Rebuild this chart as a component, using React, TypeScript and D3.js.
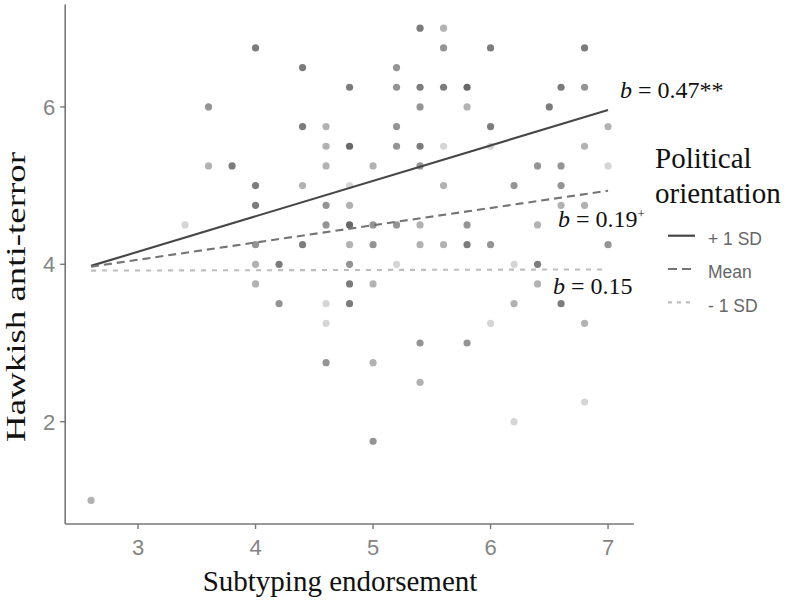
import React from "react";
import * as d3 from "d3";

// Scatter data: x (subtyping), y (hawkish), n (overlap count -> shade)
const pointX = [
  2.6, 3.4, 3.6, 3.6, 3.8,
  4.0, 4.0, 4.0, 4.0, 4.0, 4.0,
  4.2, 4.2,
  4.4, 4.4, 4.4, 4.4,
  4.6, 4.6, 4.6, 4.6, 4.6, 4.6, 4.6, 4.6,
  4.8, 4.8, 4.8, 4.8, 4.8, 4.8, 4.8, 4.8, 4.8,
  5.0, 5.0, 5.0, 5.0, 5.0, 5.0,
  5.2, 5.2, 5.2, 5.2, 5.2, 5.2,
  5.4, 5.4, 5.4, 5.4, 5.4, 5.4, 5.4, 5.4, 5.4,
  5.6, 5.6, 5.6, 5.6, 5.6, 5.6,
  5.8, 5.8, 5.8, 5.8, 5.8,
  6.0, 6.0, 6.0, 6.0, 6.0,
  6.2, 6.2, 6.2, 6.2,
  6.4, 6.4, 6.4, 6.4,
  6.5,
  6.6, 6.6, 6.6, 6.6, 6.6,
  6.8, 6.8, 6.8, 6.8, 6.8, 6.8,
  7.0, 7.0, 7.0,
];
const pointY = [
  1.0, 4.5, 6.0, 5.25, 5.25,
  6.75, 5.0, 4.75, 4.25, 4.0, 3.75,
  4.0, 3.5,
  6.5, 5.75, 5.0, 4.25,
  5.75, 5.5, 5.25, 4.75, 4.5, 3.5, 3.25, 2.75,
  6.25, 5.5, 5.0, 4.75, 4.5, 4.25, 4.0, 3.75, 3.5,
  5.25, 4.5, 4.25, 3.75, 2.75, 1.75,
  6.5, 6.25, 5.75, 5.5, 4.5, 4.0,
  7.0, 6.25, 6.0, 5.5, 5.25, 4.5, 4.25, 3.0, 2.5,
  7.0, 6.75, 6.25, 5.5, 5.0, 4.25,
  6.25, 6.0, 4.5, 4.25, 3.0,
  6.75, 5.75, 5.5, 4.25, 3.25,
  5.0, 4.0, 3.5, 2.0,
  5.25, 4.5, 4.0, 3.75,
  6.0,
  6.25, 5.25, 5.0, 4.75, 3.5,
  6.75, 6.25, 5.5, 4.75, 3.25, 2.25,
  5.75, 5.25, 4.25,
];
const pointN = [
  2, 1, 3, 2, 4,
  4, 4, 4, 3, 2, 2,
  4, 3,
  4, 4, 2, 4,
  2, 2, 2, 3, 3, 1, 1, 3,
  4, 5, 1, 2, 5, 2, 3, 4, 4,
  2, 3, 3, 2, 2, 3,
  3, 3, 3, 3, 3, 1,
  4, 4, 3, 4, 3, 2, 2, 3, 2,
  2, 3, 4, 1, 2, 2,
  5, 2, 3, 4, 3,
  4, 4, 1, 3, 1,
  3, 1, 2, 1,
  3, 2, 4, 2,
  4,
  4, 3, 3, 2, 4,
  4, 3, 2, 2, 2, 1,
  2, 1, 3,
];

// Simple slopes (predicted values at x = 2.6 and x = 7)
const lineX = [2.6, 7.0];
const plusSD = [3.98, 5.96];
const meanSD = [3.97, 4.935];
const minusSD = [3.92, 3.935];

const xTicks = [3, 4, 5, 6, 7];
const yTicks = [2, 4, 6];
const legendLabels = ["+ 1 SD", "Mean", "- 1 SD"];

export default function App() {
  const x = d3.scaleLinear().domain([2.38, 7.22]).range([65.2, 633.9]);
  const y = d3.scaleLinear().domain([0.7, 7.3]).range([524, 4.6]);
  const line = d3
    .line<number>()
    .x((_, i) => x(lineX[i]))
    .y((d) => y(d));

  const serif = "'Liberation Serif', 'Times New Roman', serif";
  const sans = "'Liberation Sans', Arial, sans-serif";
  const alpha = 0.165;

  const series = [
    { vals: plusSD, color: "#464646", dash: "none", key: "none" },
    { vals: meanSD, color: "#747474", dash: "8,5", key: "9,5" },
    { vals: minusSD, color: "#bdbdbd", dash: "5,6", key: "4,5" },
  ];

  return (
    <svg
      width={787}
      height={603}
      style={{ position: "absolute", left: 0, top: 0, background: "#fff" }}
    >
      <rect width={787} height={603} fill="#fff" />
      {pointX.map((px, i) => (
        <circle
          key={i}
          cx={x(px)}
          cy={y(pointY[i])}
          r={3.6}
          fill="#000"
          fillOpacity={1 - Math.pow(1 - alpha, pointN[i])}
        />
      ))}
      {series.map((s, i) => (
        <path
          key={i}
          d={line(s.vals) || ""}
          fill="none"
          stroke={s.color}
          strokeWidth={2.1}
          strokeDasharray={s.dash}
        />
      ))}
      <line x1={x(2.38)} x2={x(2.38)} y1={y(7.3)} y2={y(0.7)} stroke="#777" strokeWidth={1.6} />
      <line x1={x(2.38)} x2={x(7.22)} y1={y(0.7)} y2={y(0.7)} stroke="#777" strokeWidth={1.6} />
      {yTicks.map((t) => (
        <g key={t}>
          <line x1={x(2.38) - 5} x2={x(2.38)} y1={y(t)} y2={y(t)} stroke="#777" strokeWidth={1.4} />
          <text
            x={x(2.38) - 10}
            y={y(t)}
            dy="0.36em"
            textAnchor="end"
            fontFamily={sans}
            fontSize={22}
            fill="#858585"
          >
            {t}
          </text>
        </g>
      ))}
      {xTicks.map((t) => (
        <g key={t}>
          <line x1={x(t)} x2={x(t)} y1={y(0.7)} y2={y(0.7) + 5} stroke="#777" strokeWidth={1.4} />
          <text
            x={x(t)}
            y={555}
            textAnchor="middle"
            fontFamily={sans}
            fontSize={22}
            fill="#858585"
          >
            {t}
          </text>
        </g>
      ))}
      <text x={340} y={591} textAnchor="middle" fontFamily={serif} fontSize={29} fill="#111">
        Subtyping endorsement
      </text>
      <text
        transform="translate(25,297) rotate(-90)"
        textAnchor="middle"
        fontFamily={serif}
        fontSize={27}
        fill="#111"
        textLength={290}
        lengthAdjust="spacingAndGlyphs"
      >
        Hawkish anti-terror
      </text>
      <text x={620} y={98} fontFamily={serif} fontSize={24} fill="#111">
        <tspan fontStyle="italic">b</tspan> = 0.47**
      </text>
      <text x={558} y={227} fontFamily={serif} fontSize={24} fill="#111">
        <tspan fontStyle="italic">b</tspan> = 0.19
        <tspan fontSize={13} dy={-9}>+</tspan>
      </text>
      <text x={553} y={294} fontFamily={serif} fontSize={24} fill="#111">
        <tspan fontStyle="italic">b</tspan> = 0.15
      </text>
      <text x={655} y={168} fontFamily={serif} fontSize={29} fill="#111">
        Political
      </text>
      <text x={655} y={203} fontFamily={serif} fontSize={29} fill="#111">
        orientation
      </text>
      {series.map((s, i) => (
        <g key={i}>
          <line
            x1={668}
            x2={695}
            y1={235.7 + i * 33.3}
            y2={235.7 + i * 33.3}
            stroke={s.color}
            strokeWidth={2.2}
            strokeDasharray={s.key}
          />
          <text x={708} y={245 + i * 33.3} fontFamily={sans} fontSize={17.5} fill="#666">
            {legendLabels[i]}
          </text>
        </g>
      ))}
    </svg>
  );
}
